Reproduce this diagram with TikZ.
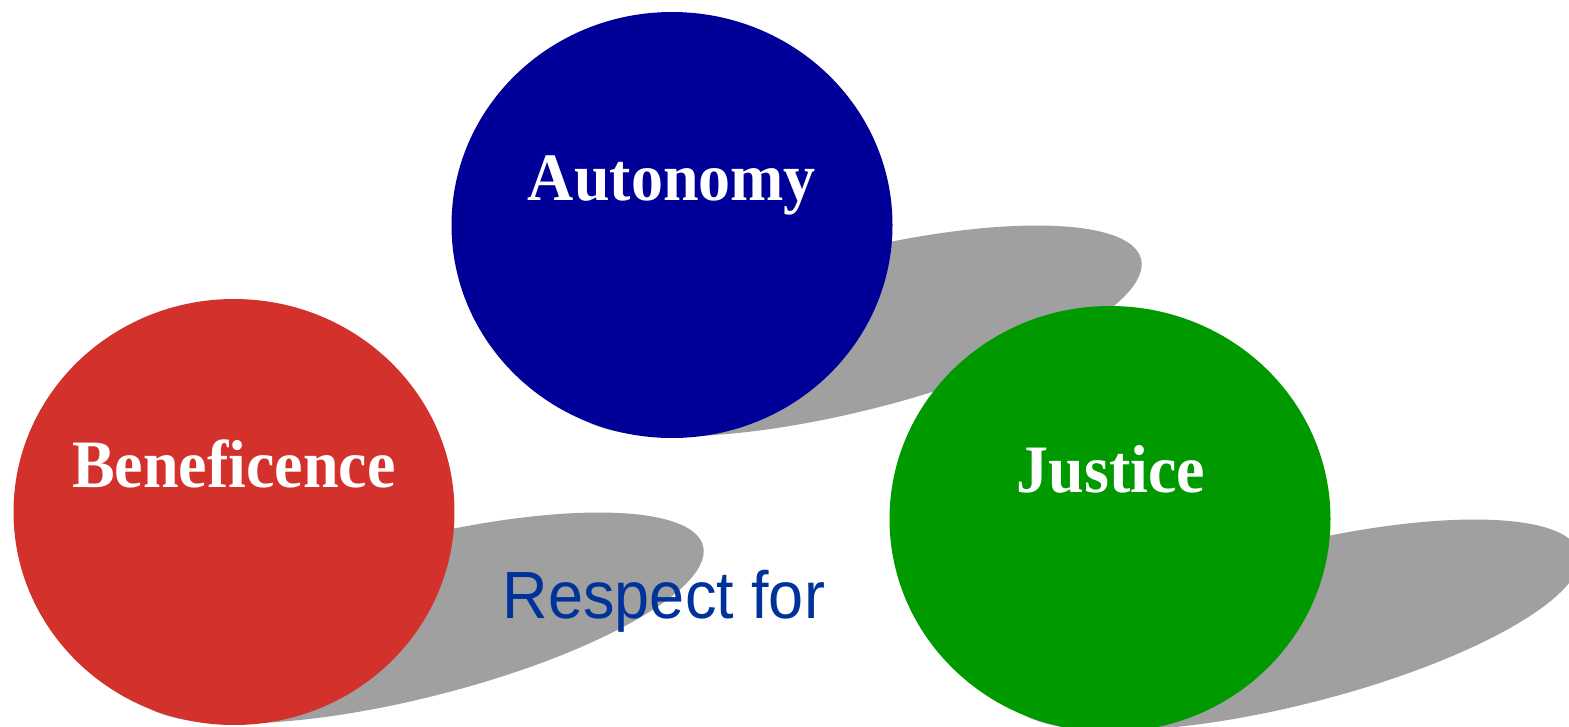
\documentclass[tikz,border=0pt]{standalone}
\usepackage{fontspec}
\usetikzlibrary{shapes.geometric}
\newfontfamily\principiofont{Liberation Serif}
\newfontfamily\respetofont{Liberation Sans}
\definecolor{azul}{RGB}{0,0,153}
\definecolor{rojo}{RGB}{210,49,44}
\definecolor{verde}{RGB}{0,153,0}
\definecolor{gris}{RGB}{160,160,160}
\definecolor{azultexto}{RGB}{0,51,153}
\newcommand{\alto}[1]{\scalebox{1}[1.06]{#1}}
\tikzstyle{Principio}=[ellipse, draw=none, minimum width=441pt, minimum height=426pt, inner sep=0pt]
\tikzstyle{Etiqueta}=[anchor=base, inner sep=0pt, text=white, font=\principiofont\bfseries\fontsize{64}{64}\selectfont]
\tikzstyle{Sombra}=[fill=gris]
\tikzset{sombrapic/.pic={
	\begin{scope}[shift={(184,106)}, rotate=14.2]
		\fill[Sombra] (0,0) ellipse [x radius=294, y radius=79.4];
	\end{scope}
}}

\begin{document}
\begin{tikzpicture}[x=1pt, y=-1pt]
			\useasboundingbox (0,0) rectangle (1569,726);
			\clip (0,0) rectangle (1569,726);

			%Centros
			\coordinate (autonomy_c)	at (672,225);
			\coordinate (beneficence_c)	at (234,512);
			\coordinate (justice_c)		at (1110,519);

			%Sombras
			\pic at (autonomy_c) {sombrapic};
			\pic at (beneficence_c) {sombrapic};
			\pic at (justice_c) {sombrapic};

			%Nodos
			\node[Principio, fill=azul]		(autonomy)		at (autonomy_c)		{};
			\node[Principio, fill=rojo]		(beneficence)	at (beneficence_c)	{};
			\node[Principio, fill=verde]	(justice)		at (justice_c)		{};

			%Textos
			\node[Etiqueta]	(autonomy_txt)		at (672,200)	{\alto{Autonomy}};
			\node[Etiqueta]	(beneficence_txt)	at (234,487)	{\alto{Beneficence}};
			\node[Etiqueta]	(justice_txt)		at (1111,492)	{\alto{Justice}};
			\node[anchor=base, inner sep=0pt, text=azultexto, font=\respetofont\fontsize{63}{63}\selectfont]	(respect)	at (664,618)	{\alto{Respect for}};

		\end{tikzpicture}
\end{document}
